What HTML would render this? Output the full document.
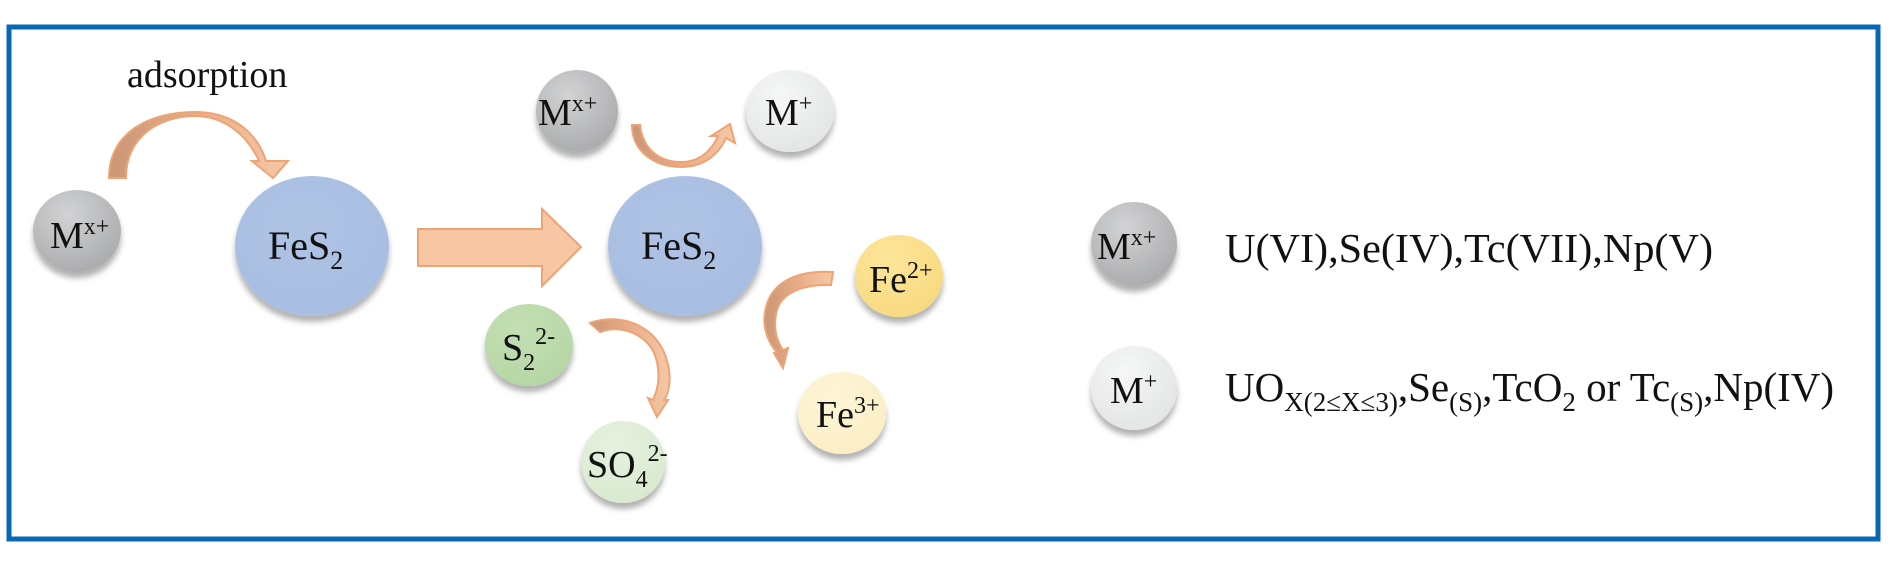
<!DOCTYPE html>
<html><head><meta charset="utf-8"><style>
html,body{margin:0;padding:0;background:#fff;}
svg{display:block;}
text{font-family:"Liberation Serif",serif;fill:#111;}
</style></head><body>
<svg width="1890" height="567" viewBox="0 0 1890 567" xmlns="http://www.w3.org/2000/svg">
<defs>
<radialGradient id="gGray" cx="0.4" cy="0.3" r="0.75"><stop offset="0" stop-color="#d2d3d4"/><stop offset="1" stop-color="#a9aaac"/></radialGradient>
<radialGradient id="gLight" cx="0.4" cy="0.3" r="0.75"><stop offset="0" stop-color="#f6f7f7"/><stop offset="1" stop-color="#e2e4e5"/></radialGradient>
<radialGradient id="gBlue" cx="0.45" cy="0.35" r="0.7"><stop offset="0" stop-color="#afc3e5"/><stop offset="1" stop-color="#a7bde1"/></radialGradient>
<radialGradient id="gGreen" cx="0.4" cy="0.3" r="0.75"><stop offset="0" stop-color="#c3dfb4"/><stop offset="1" stop-color="#b6d6a5"/></radialGradient>
<radialGradient id="gLGreen" cx="0.4" cy="0.3" r="0.75"><stop offset="0" stop-color="#e6f1df"/><stop offset="1" stop-color="#d9ead0"/></radialGradient>
<radialGradient id="gYellow" cx="0.4" cy="0.3" r="0.75"><stop offset="0" stop-color="#fde59a"/><stop offset="1" stop-color="#f8d97f"/></radialGradient>
<radialGradient id="gLYellow" cx="0.4" cy="0.3" r="0.75"><stop offset="0" stop-color="#fef5d8"/><stop offset="1" stop-color="#fbeec4"/></radialGradient>
<linearGradient id="gArr" x1="0" y1="0" x2="1" y2="0"><stop offset="0" stop-color="#c99677"/><stop offset="0.5" stop-color="#e9ad88"/><stop offset="1" stop-color="#f6c8a6"/></linearGradient>
<filter id="sh" x="-30%" y="-30%" width="160%" height="170%"><feDropShadow dx="0" dy="6" stdDeviation="3" flood-color="#000" flood-opacity="0.3"/></filter>
</defs>
<rect x="9" y="27" width="1869" height="512" fill="none" stroke="#0868b8" stroke-width="5"/>

<path d="M109,178 C109,132 150,112 195,112 C235,112 258,135 266,161 L288,161 L273,178 L252,161 L259,161 C248,136 225,116 195,116 C160,116 126,136 126,178 Z" fill="url(#gArr)" stroke="#eea374" stroke-width="2"/>
<polygon points="418,229 542,229 542,209 581,247 542,286 542,266 418,266" fill="#f6c6a5" stroke="#eea374" stroke-width="2"/>
<path d="M632,125 L640,125 C643,150 660,162 681,162 C700,162 712,150 718,136 L711,136 L730,124 L735,143 L726,138 C718,156 702,167 681,167 C655,167 632,152 632,125 Z" fill="url(#gArr)" stroke="#eea374" stroke-width="2"/>
<path d="M590,323 C620,312 660,325 668,365 C672,380 668,395 664,400 L668,400 L657,417 L648,398 L653,400 C660,385 660,370 655,355 C645,332 620,325 600,332 Z" fill="url(#gArr)" stroke="#eea374" stroke-width="2"/>
<path d="M833,272 C800,270 770,280 765,312 C762,330 770,345 777,352 L774,353 L783,368 L788,348 L783,350 C775,338 773,325 777,310 C782,292 805,284 831,285 Z" fill="url(#gArr)" stroke="#eea374" stroke-width="2"/>

<g filter="url(#sh)">
<ellipse cx="77" cy="231" rx="44" ry="41" fill="url(#gGray)"/>
<ellipse cx="312" cy="246" rx="77" ry="70" fill="url(#gBlue)"/>
<ellipse cx="685" cy="246" rx="77" ry="70" fill="url(#gBlue)"/>
<ellipse cx="577" cy="111" rx="41" ry="41" fill="url(#gGray)"/>
<ellipse cx="790" cy="111" rx="44" ry="41" fill="url(#gLight)"/>
<ellipse cx="899" cy="276" rx="44" ry="41" fill="url(#gYellow)"/>
<ellipse cx="842" cy="413" rx="44" ry="41" fill="url(#gLYellow)"/>
<ellipse cx="529" cy="345" rx="44" ry="41" fill="url(#gGreen)"/>
<ellipse cx="623" cy="462" rx="42" ry="41" fill="url(#gLGreen)"/>
<ellipse cx="1134" cy="244" rx="43" ry="42" fill="url(#gGray)"/>
<ellipse cx="1134" cy="388" rx="43" ry="42" fill="url(#gLight)"/>
</g>

<text x="127" y="87" font-size="38">adsorption</text>
<text x="50" y="248" font-size="38">M<tspan font-size="24" dy="-14">x+</tspan></text>
<text x="268" y="259" font-size="40">FeS<tspan font-size="26" dy="10">2</tspan></text>
<text x="641" y="259" font-size="40">FeS<tspan font-size="26" dy="10">2</tspan></text>
<text x="538" y="125" font-size="38">M<tspan font-size="24" dy="-14">x+</tspan></text>
<text x="765" y="125" font-size="38">M<tspan font-size="24" dy="-14">+</tspan></text>
<text x="869" y="292" font-size="38">Fe<tspan font-size="24" dy="-14">2+</tspan></text>
<text x="816" y="427" font-size="38">Fe<tspan font-size="24" dy="-14">3+</tspan></text>
<text x="502" y="360" font-size="38">S<tspan font-size="24" dy="10">2</tspan><tspan font-size="24" dy="-26">2-</tspan></text>
<text x="587" y="477" font-size="38">SO<tspan font-size="24" dy="10">4</tspan><tspan font-size="24" dy="-26">2-</tspan></text>
<text x="1097" y="259" font-size="38">M<tspan font-size="24" dy="-14">x+</tspan></text>
<text x="1110" y="403" font-size="38">M<tspan font-size="24" dy="-14">+</tspan></text>
<text x="1225" y="262" font-size="41" textLength="488" lengthAdjust="spacingAndGlyphs">U(VI),Se(IV),Tc(VII),Np(V)</text>
<text x="1225" y="401" font-size="41">UO<tspan font-size="27" dy="10">X(2≤X≤3)</tspan><tspan dy="-10">,Se</tspan><tspan font-size="27" dy="10">(S)</tspan><tspan dy="-10">,TcO</tspan><tspan font-size="27" dy="10">2</tspan><tspan dy="-10"> or Tc</tspan><tspan font-size="27" dy="10">(S)</tspan><tspan dy="-10">,Np(IV)</tspan></text>
</svg>
</body></html>
